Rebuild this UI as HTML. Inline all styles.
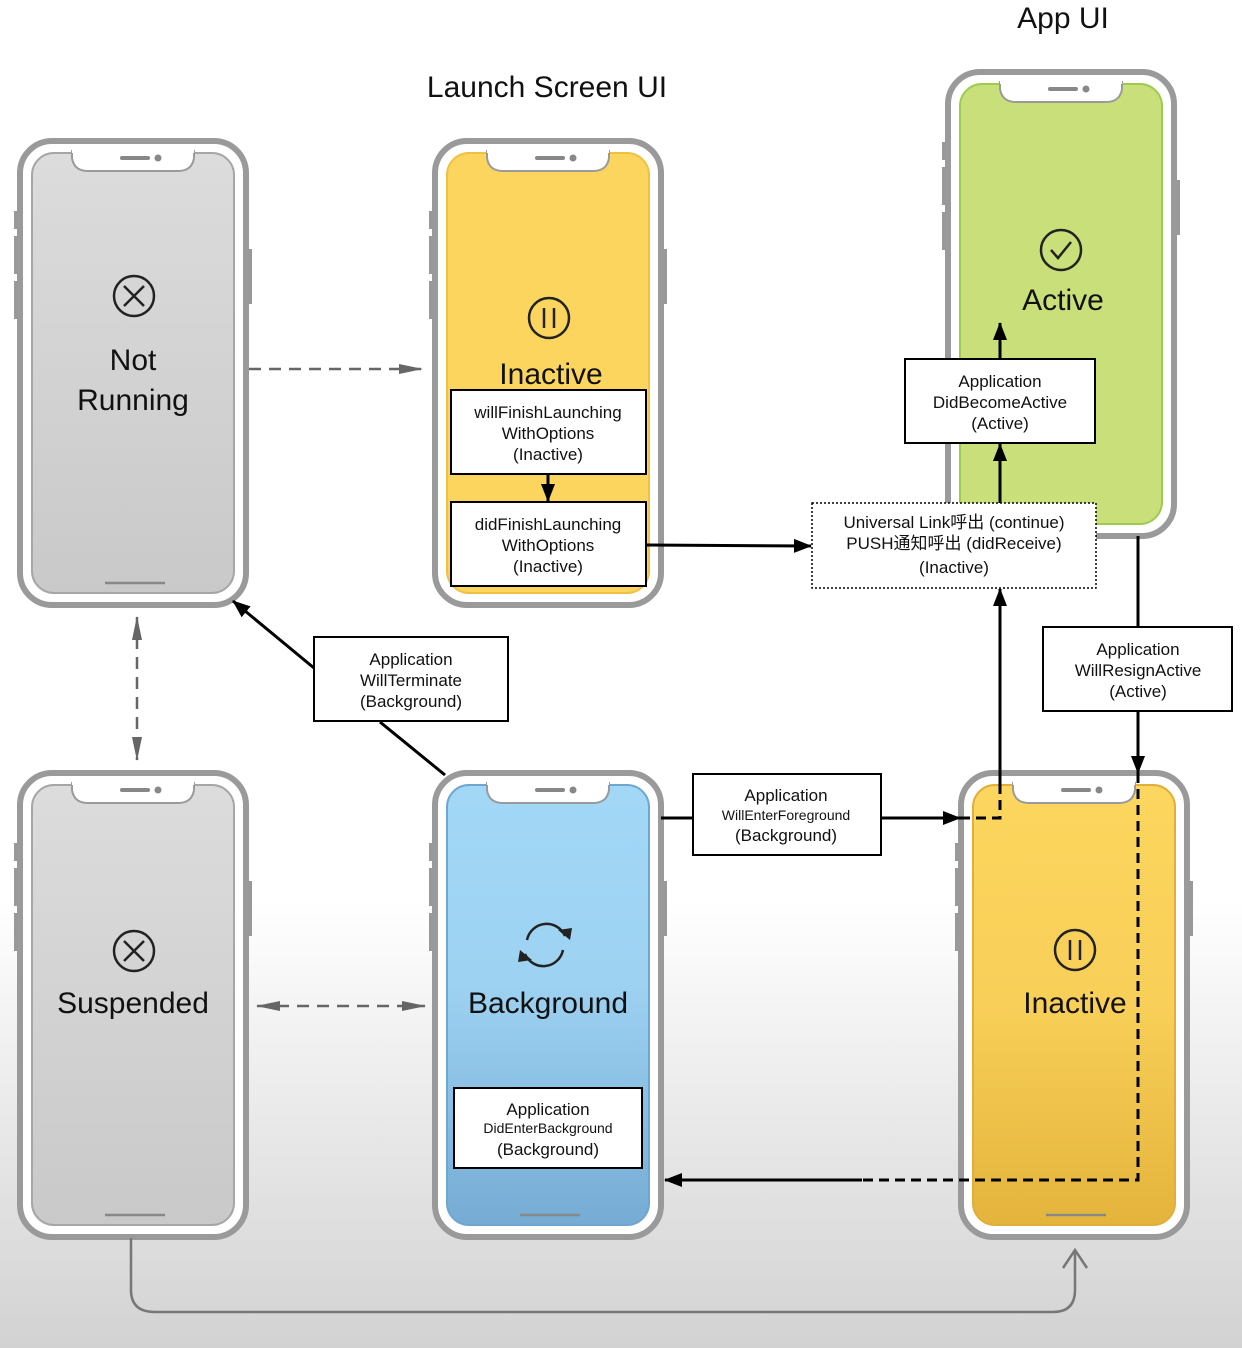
<!DOCTYPE html>
<html><head><meta charset="utf-8"><style>
body{margin:0;width:1242px;height:1348px;overflow:hidden;background:linear-gradient(#fff 0,#fff 900px,#d2d2d2 1348px);}
svg{display:block}
text{font-family:"Liberation Sans","Noto Sans CJK SC",sans-serif;}
</style></head><body>
<svg width="1242" height="1348" viewBox="0 0 1242 1348">
<defs>
<linearGradient id="gb" x1="0" y1="0" x2="0" y2="1"><stop offset="0" stop-color="#a2d8f6"/><stop offset="0.45" stop-color="#9dd2f2"/><stop offset="1" stop-color="#76acd4"/></linearGradient>
<linearGradient id="gy" x1="0" y1="0" x2="0" y2="1"><stop offset="0" stop-color="#fcd65e"/><stop offset="0.5" stop-color="#f8cf58"/><stop offset="1" stop-color="#e4b43c"/></linearGradient>
<linearGradient id="gg" x1="0" y1="0" x2="0" y2="1"><stop offset="0" stop-color="#dcdcdc"/><stop offset="1" stop-color="#c9c9c9"/></linearGradient>
<g id="frame">
<rect x="-6" y="70" width="6" height="18" fill="#999"/>
<rect x="-6" y="95" width="6" height="38" fill="#999"/>
<rect x="-6" y="140" width="6" height="38" fill="#999"/>
<rect x="226" y="108" width="6" height="55" fill="#999"/>
<rect x="0" y="0" width="226" height="464" rx="32" fill="#fff" stroke="#9a9a9a" stroke-width="6"/>
</g>
<g id="top">
<path d="M52,10 L52,17 Q54,30 68,30 L158,30 Q172,30 174,17 L174,10 Z" fill="#fff" stroke="#9a9a9a" stroke-width="2"/>
<path d="M52,8 L174,8 L174,12 L52,12Z" fill="#fff"/>
<line x1="102" y1="17" x2="128" y2="17" stroke="#888" stroke-width="4" stroke-linecap="round"/>
<circle cx="138" cy="17" r="3.5" fill="#888"/>
<line x1="85" y1="442" x2="145" y2="442" stroke="#888" stroke-width="2.5"/>
</g>
<marker id="ah2" markerWidth="18" markerHeight="14" refX="17" refY="7" orient="auto-start-reverse" markerUnits="userSpaceOnUse"><path d="M0,0 L18,7 L0,14Z" fill="#000"/></marker>
<marker id="ag" markerWidth="24" markerHeight="12" refX="23" refY="6" orient="auto-start-reverse" markerUnits="userSpaceOnUse"><path d="M0,1 L24,6 L0,11Z" fill="#666"/></marker>
</defs>

<text x="547" y="97" font-size="30" text-anchor="middle" fill="#111">Launch Screen UI</text>
<text x="1063" y="28" font-size="30" text-anchor="middle" fill="#111">App UI</text>

<g transform="translate(20,141)"><use href="#frame"/><rect x="12" y="12" width="202" height="440" rx="22" fill="url(#gg)" stroke="#a6a6a6" stroke-width="2"/><use href="#top"/></g>
<g transform="translate(435,141)"><use href="#frame"/><rect x="12" y="12" width="202" height="440" rx="22" fill="#fcd55e" stroke="#f0c044" stroke-width="2"/><use href="#top"/></g>
<g transform="translate(948,72)"><use href="#frame"/><rect x="12" y="12" width="202" height="440" rx="22" fill="#c9e07a" stroke="#9ccb4f" stroke-width="2"/><use href="#top"/></g>
<g transform="translate(20,773)"><use href="#frame"/><rect x="12" y="12" width="202" height="440" rx="22" fill="url(#gg)" stroke="#a6a6a6" stroke-width="2"/><use href="#top"/></g>
<g transform="translate(435,773)"><use href="#frame"/><rect x="12" y="12" width="202" height="440" rx="22" fill="url(#gb)" stroke="#6ea6d0" stroke-width="2"/><use href="#top"/></g>
<g transform="translate(961,773)"><use href="#frame"/><rect x="12" y="12" width="202" height="440" rx="22" fill="url(#gy)" stroke="#e0ae3a" stroke-width="2"/><use href="#top"/></g>

<g fill="none" stroke="#222" stroke-width="2.5">
<circle cx="134" cy="296" r="20"/><path d="M124,286 L144,306 M144,286 L124,306"/>
<circle cx="134" cy="951" r="20"/><path d="M124,941 L144,961 M144,941 L124,961"/>
<circle cx="549" cy="318" r="20"/><path d="M544,308 V328 M554,308 V328"/>
<circle cx="1075" cy="950" r="20"/><path d="M1070,940 V960 M1080,940 V960"/>
<circle cx="1061" cy="250" r="20"/><path d="M1051,250 L1058,258 L1071,242"/>
<path d="M527,940 A20,20 0 0 1 565,936 M563,950 A20,20 0 0 1 525,954"/>
</g>
<path d="M558,930 L570,940 L572,928Z M532,960 L520,950 L518,962Z" fill="#222"/>
<g font-size="30" text-anchor="middle" fill="#111">
<text x="133" y="370">Not</text><text x="133" y="410">Running</text>
<text x="551" y="384">Inactive</text>
<text x="1063" y="310">Active</text>
<text x="133" y="1013">Suspended</text>
<text x="548" y="1013">Background</text>
<text x="1075" y="1013">Inactive</text>
</g>

<g fill="#fff" stroke="#000" stroke-width="2">
<rect x="451" y="390" width="195" height="84"/>
<rect x="451" y="502" width="195" height="84"/>
<rect x="905" y="359" width="190" height="84"/>
<rect x="314" y="637" width="194" height="84"/>
<rect x="693" y="774" width="188" height="81"/>
<rect x="1043" y="627" width="189" height="84"/>
<rect x="454" y="1088" width="188" height="80"/>
</g>
<rect x="812" y="503" width="284" height="85" fill="#fff" stroke="#000" stroke-width="1.5" stroke-dasharray="2,2"/>
<g font-size="17" text-anchor="middle" fill="#111">
<text x="548" y="418">willFinishLaunching</text><text x="548" y="439">WithOptions</text><text x="548" y="460">(Inactive)</text>
<text x="548" y="530">didFinishLaunching</text><text x="548" y="551">WithOptions</text><text x="548" y="572">(Inactive)</text>
<text x="1000" y="387">Application</text><text x="1000" y="408">DidBecomeActive</text><text x="1000" y="429">(Active)</text>
<text x="411" y="665">Application</text><text x="411" y="686">WillTerminate</text><text x="411" y="707">(Background)</text>
<text x="1138" y="655">Application</text><text x="1138" y="676">WillResignActive</text><text x="1138" y="697">(Active)</text>
<text x="786" y="801">Application</text><text x="786" y="841">(Background)</text>
<text x="548" y="1115">Application</text><text x="548" y="1155">(Background)</text>
<text x="954" y="528">Universal Link呼出 (continue)</text>
<text x="954" y="549">PUSH通知呼出 (didReceive)</text>
<text x="954" y="573">(Inactive)</text>
</g>
<g font-size="14" text-anchor="middle" fill="#111">
<text x="786" y="820">WillEnterForeground</text>
<text x="548" y="1133">DidEnterBackground</text>
</g>

<g stroke="#000" stroke-width="3" fill="none">
<line x1="548" y1="474" x2="548" y2="501" marker-end="url(#ah2)"/>
<line x1="646" y1="545" x2="811" y2="546" marker-end="url(#ah2)"/>
<line x1="1000" y1="359" x2="1000" y2="323" marker-end="url(#ah2)"/>
<line x1="1000" y1="503" x2="1000" y2="444" marker-end="url(#ah2)"/>
<line x1="1000" y1="785" x2="1000" y2="589" marker-end="url(#ah2)"/>
<line x1="661" y1="818" x2="693" y2="818"/>
<line x1="881" y1="818" x2="960" y2="818" marker-end="url(#ah2)"/>
<path d="M960,818 H1000 V785" stroke-dasharray="10,6"/>
<line x1="1138" y1="536" x2="1138" y2="627"/>
<line x1="1138" y1="711" x2="1138" y2="773" marker-end="url(#ah2)"/>
<path d="M1138,773 V1180 H860" stroke-dasharray="10,6"/>
<line x1="862" y1="1180" x2="665" y2="1180" marker-end="url(#ah2)"/>
<line x1="445" y1="775" x2="380" y2="722"/>
<line x1="314" y1="668" x2="233" y2="601" marker-end="url(#ah2)"/>
</g>
<g stroke="#666" stroke-width="2.5" fill="none" stroke-dasharray="12,8">
<line x1="249" y1="369" x2="422" y2="369" marker-end="url(#ag)"/>
<line x1="137" y1="617" x2="137" y2="760" marker-start="url(#ag)" marker-end="url(#ag)"/>
<line x1="257" y1="1006" x2="425" y2="1006" marker-start="url(#ag)" marker-end="url(#ag)"/>
</g>
<path d="M131,1238 V1290 Q131,1312 155,1312 H1053 Q1075,1312 1075,1290 V1250 M1063,1268 L1075,1250 L1087,1268" stroke="#777" stroke-width="2.5" fill="none"/>
</svg>
</body></html>
